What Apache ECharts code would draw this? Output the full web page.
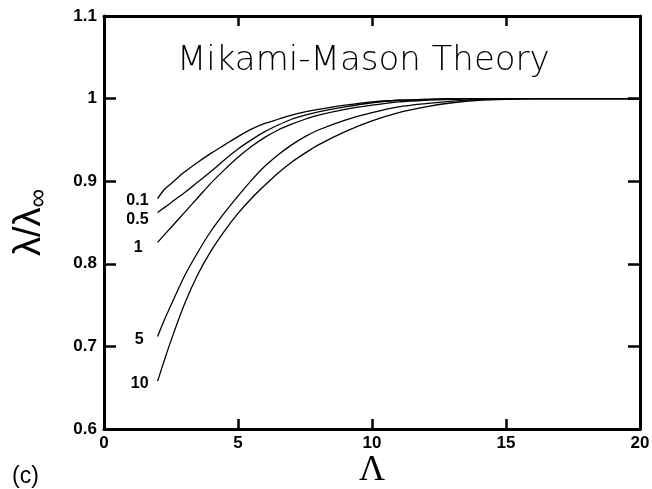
<!DOCTYPE html>
<html>
<head>
<meta charset="utf-8">
<script src="https://cdn.jsdelivr.net/npm/echarts@6/dist/echarts.min.js"></script>
<style>
  html, body { margin: 0; padding: 0; background: #fff; }
  #chart { width: 652px; height: 489px; }
</style>
</head>
<body>
<div id="chart"></div>
<script>
// Λ values shared by all curves
var lambdaX = [2, 2.25, 2.5, 3, 3.5, 4, 4.5, 5, 5.5, 6, 6.5, 7, 7.5, 8, 9, 10, 11, 12, 13, 14, 15, 16, 17, 18, 19, 20]
// λ/λ∞ for each curve
var ratio01 = [0.879, 0.890, 0.897, 0.911, 0.923, 0.934, 0.944, 0.954, 0.963, 0.970, 0.975, 0.980, 0.984, 0.987, 0.992, 0.996, 0.998, 0.999, 1, 1, 1, 1, 1, 1, 1, 1]
var ratio05 = [0.862, 0.868, 0.874, 0.886, 0.899, 0.912, 0.926, 0.939, 0.950, 0.960, 0.968, 0.975, 0.980, 0.984, 0.990, 0.995, 0.998, 0.999, 1, 1, 1, 1, 1, 1, 1, 1]
var ratio1 = [0.826, 0.835, 0.844, 0.862, 0.880, 0.898, 0.914, 0.929, 0.942, 0.953, 0.962, 0.969, 0.975, 0.980, 0.987, 0.992, 0.996, 0.998, 0.999, 1, 1, 1, 1, 1, 1, 1]
var ratio5 = [0.712, 0.732, 0.750, 0.785, 0.814, 0.840, 0.862, 0.882, 0.901, 0.918, 0.932, 0.944, 0.954, 0.962, 0.974, 0.983, 0.990, 0.994, 0.997, 0.999, 1, 1, 1, 1, 1, 1]
var ratio10 = [0.658, 0.683, 0.707, 0.751, 0.787, 0.816, 0.840, 0.861, 0.879, 0.895, 0.910, 0.923, 0.934, 0.944, 0.960, 0.973, 0.983, 0.990, 0.995, 0.998, 0.999, 1, 1, 1, 1, 1]
var curveNames = ['0.1', '0.5', '1', '5', '10']
var curveValues = [ratio01, ratio05, ratio1, ratio5, ratio10]
var titleText = 'Mikami-Mason Theory'

var myChart = echarts.init(document.getElementById('chart'))

// label nudges (dx, dy) so the numbers sit like the original
var labelNudge = [[0, 2], [0, 7], [-6, 5], [-5, 3], [0, 3]]

var series = curveValues.map(function (vals, k) {
  return {
    name: curveNames[k],
    type: 'line',
    smooth: 0.3,
    showSymbol: false,
    lineStyle: { color: '#000', width: 1.3 },
    data: lambdaX.map(function (x, i) { return [x, vals[i]] }),
    markPoint: {
      symbol: 'circle',
      symbolSize: 0,
      data: [{ coord: [lambdaX[0], vals[0]] }],
      label: {
        show: true,
        position: 'left',
        distance: 9,
        offset: labelNudge[k],
        formatter: curveNames[k],
        color: '#000',
        fontSize: 16,
        fontWeight: 'bold',
        fontFamily: 'Liberation Sans'
      }
    }
  }
})

var axisLine = { show: true, onZero: false, lineStyle: { color: '#000', width: 3 } }
var tickLabel = { color: '#000', fontSize: 17, fontWeight: 'bold', fontFamily: 'Liberation Sans' }

var option = {
  animation: false,
  textStyle: { fontFamily: 'Liberation Sans' },
  grid: { left: 104, right: 12, top: 16, bottom: 60, containLabel: false, outerBoundsMode: 'none' },
  xAxis: [
    {
      type: 'value', min: 0, max: 20, interval: 5, position: 'bottom',
      axisLine: axisLine,
      axisTick: { show: true, inside: true, length: 10, lineStyle: { color: '#000', width: 2.5 } },
      axisLabel: Object.assign({ margin: 6 }, tickLabel),
      splitLine: { show: false },
      name: 'Λ', nameLocation: 'middle', nameGap: 24, nameMoveOverlap: false,
      nameTextStyle: { fontSize: 36, fontFamily: 'Liberation Serif', color: '#000', verticalAlign: 'top' }
    },
    {
      type: 'value', min: 0, max: 20, interval: 5, position: 'top',
      axisLine: axisLine,
      axisTick: { show: true, inside: true, length: 10, lineStyle: { color: '#000', width: 2.5 } },
      axisLabel: { show: false },
      splitLine: { show: false }
    }
  ],
  yAxis: [
    {
      type: 'value', min: 0.6, max: 1.1, interval: 0.1, position: 'left',
      axisLine: axisLine,
      axisTick: { show: true, inside: true, length: 12, lineStyle: { color: '#000', width: 2.5 } },
      axisLabel: Object.assign({
        margin: 7,
        formatter: function (v) { return String(parseFloat(v.toFixed(2))) }
      }, tickLabel),
      splitLine: { show: false },
      name: '{l|λ/λ}{s|∞}', nameLocation: 'middle', nameRotate: 90, nameGap: 52,
      nameTextStyle: {
        color: '#000',
        rich: {
          l: { fontSize: 38, fontFamily: 'Liberation Sans', lineHeight: 44, color: '#000' },
          s: { fontSize: 26, fontFamily: 'Liberation Sans', verticalAlign: 'bottom', lineHeight: 24, color: '#000' }
        }
      }
    },
    {
      type: 'value', min: 0.6, max: 1.1, interval: 0.1, position: 'right',
      axisLine: axisLine,
      axisTick: { show: true, inside: true, length: 12, lineStyle: { color: '#000', width: 2.5 } },
      axisLabel: { show: false },
      splitLine: { show: false }
    }
  ],
  graphic: [
    {
      type: 'text', left: 177, top: 44,
      style: { text: titleText, fontSize: 34, fontWeight: 200, fontFamily: 'DejaVu Sans', fill: '#000' }
    },
    {
      type: 'text', left: 12, top: 465,
      style: { text: '(c)', fontSize: 23, fontFamily: 'Liberation Sans', fill: '#000' }
    }
  ],
  series: series
}

myChart.setOption(option)
window.addEventListener('resize', function () { myChart.resize() })
</script>
</body>
</html>
